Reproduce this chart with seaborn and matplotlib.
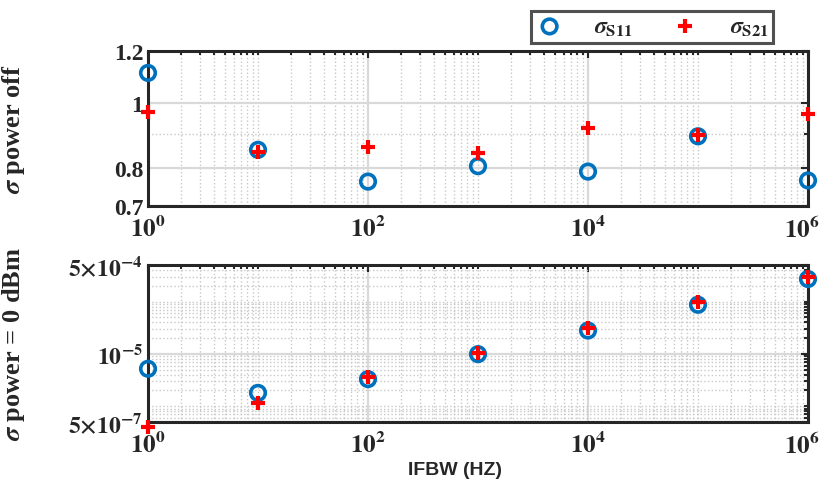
import numpy as np
import pandas as pd
import matplotlib
matplotlib.use('Agg')
import matplotlib.pyplot as plt
import matplotlib.ticker as mticker
import matplotlib.transforms as mtransforms
import seaborn as sns

ifbw = [1, 10, 100, 1e3, 1e4, 1e5, 1e6]
s11_off = [1.112, 0.851, 0.762, 0.804, 0.789, 0.892, 0.765]
s21_off = [0.972, 0.844, 0.860, 0.841, 0.918, 0.896, 0.963]
s11_on = [5.2e-6, 1.8e-6, 3.3e-6, 9.9e-6, 2.8e-5, 8.7e-5, 2.7e-4]
s21_on = [4.1e-7, 1.13e-6, 3.6e-6, 1.05e-5, 3.1e-5, 9.7e-5, 2.96e-4]

df = pd.DataFrame({'ifbw': ifbw, 's11_off': s11_off, 's21_off': s21_off,
                   's11_on': s11_on, 's21_on': s21_on})

sns.set_style('white')
plt.rcParams['font.family'] = ['Liberation Serif', 'DejaVu Serif']
plt.rcParams['font.weight'] = 'bold'
plt.rcParams['mathtext.fontset'] = 'stix'

blue = '#0072BD'
red = '#FF0000'

fig = plt.figure(figsize=(8.21, 4.85), dpi=100)
W, H = 821, 485
ax1 = fig.add_axes([148 / W, 1 - 207 / H, 660 / W, 155 / H])
ax2 = fig.add_axes([148 / W, 1 - 423 / H, 660 / W, 157 / H])


def draw(ax, c11, c21):
    sns.scatterplot(data=df, x='ifbw', y=c11, ax=ax, marker='o', s=110,
                    facecolors='none', edgecolor=blue, linewidth=2.6,
                    label=r'$\sigma_{\mathbf{S11}}$', clip_on=False, zorder=3)
    sns.scatterplot(data=df, x='ifbw', y=c21, ax=ax, marker='+', s=90,
                    color=red, linewidth=3, label=r'$\sigma_{\mathbf{S21}}$',
                    clip_on=False, zorder=4)
    ax.set_xscale('log')
    ax.set_yscale('log')
    ax.set_xlim(1, 1e6)
    ax.set_xticks([1, 1e2, 1e4, 1e6])
    ax.xaxis.set_major_formatter(mticker.FuncFormatter(
        lambda v, p: r'$\mathbf{10^{%d}}$' % round(np.log10(v))))
    ax.xaxis.set_minor_locator(mticker.LogLocator(base=10, subs=np.arange(1, 10), numticks=20))
    ax.xaxis.set_minor_formatter(mticker.NullFormatter())
    ax.grid(True, which='major', color='#d9d9d9', linewidth=1.6, linestyle='-')
    ax.grid(True, which='minor', color='#c8c8c8', linewidth=1.0, linestyle=':')
    ax.tick_params(which='both', direction='in', top=True, right=True, labelsize=17, width=1.5)
    ax.tick_params(axis='x', which='major', labelsize=18, pad=7)
    ax.tick_params(which='major', length=5)
    ax.tick_params(which='minor', length=3)
    for s in ax.spines.values():
        s.set_linewidth(2.2)
        s.set_color('#262626')
    ax.set_xlabel('')
    ax.set_axisbelow(True)
    # last decade label sits a bit left so it stays inside the figure
    last = ax.get_xticklabels()[-1]
    last.set_transform(last.get_transform() +
                       mtransforms.ScaledTranslation(-6 / 100, 0, fig.dpi_scale_trans))


draw(ax1, 's11_off', 's21_off')
ax1.set_ylim(0.7, 1.2)
ax1.set_yticks([0.7, 0.8, 1, 1.2])
ax1.set_yticklabels(['0.7', '0.8', '1', '1.2'], fontweight='bold')
ax1.yaxis.set_minor_locator(mticker.FixedLocator([0.9]))
ax1.yaxis.set_minor_formatter(mticker.NullFormatter())
ax1.set_ylabel(r'$\sigma$ power off', fontsize=19, fontweight='bold')
ax1.yaxis.set_label_coords(-0.183, 0.5)

draw(ax2, 's11_on', 's21_on')
ax2.set_ylim(5e-7, 5e-4)
ax2.set_yticks([5e-7, 1e-5, 5e-4])
ax2.set_yticklabels([r'$\mathbf{5{\times}10^{-7}}$', r'$\mathbf{10^{-5}}$',
                     r'$\mathbf{5{\times}10^{-4}}$'])
ax2.yaxis.set_minor_locator(mticker.LogLocator(base=10, subs=np.arange(1, 10), numticks=20))
ax2.yaxis.set_minor_formatter(mticker.NullFormatter())
ax2.set_ylabel(r'$\sigma$ power = 0 dBm', fontsize=19, fontweight='bold')
ax2.yaxis.set_label_coords(-0.183, 0.5)
ax2.set_xlabel('IFBW (HZ)', fontsize=14, fontweight='bold', family='Liberation Sans')
ax2.xaxis.set_label_coords((455 - 148) / 660, -0.25)

handles, labels = ax1.get_legend_handles_labels()
ax1.get_legend().remove()
ax2.get_legend().remove()
leg = fig.legend(handles, labels, ncol=2, loc='center',
                 bbox_to_anchor=(652 / W, 1 - 28 / H), fontsize=17,
                 frameon=True, fancybox=False, edgecolor='#262626',
                 handlelength=1.2, handletextpad=1.3, columnspacing=1.6,
                 borderpad=0.2, borderaxespad=0)
leg.get_frame().set_linewidth(2.2)

fig.savefig('out.png', dpi=100)
